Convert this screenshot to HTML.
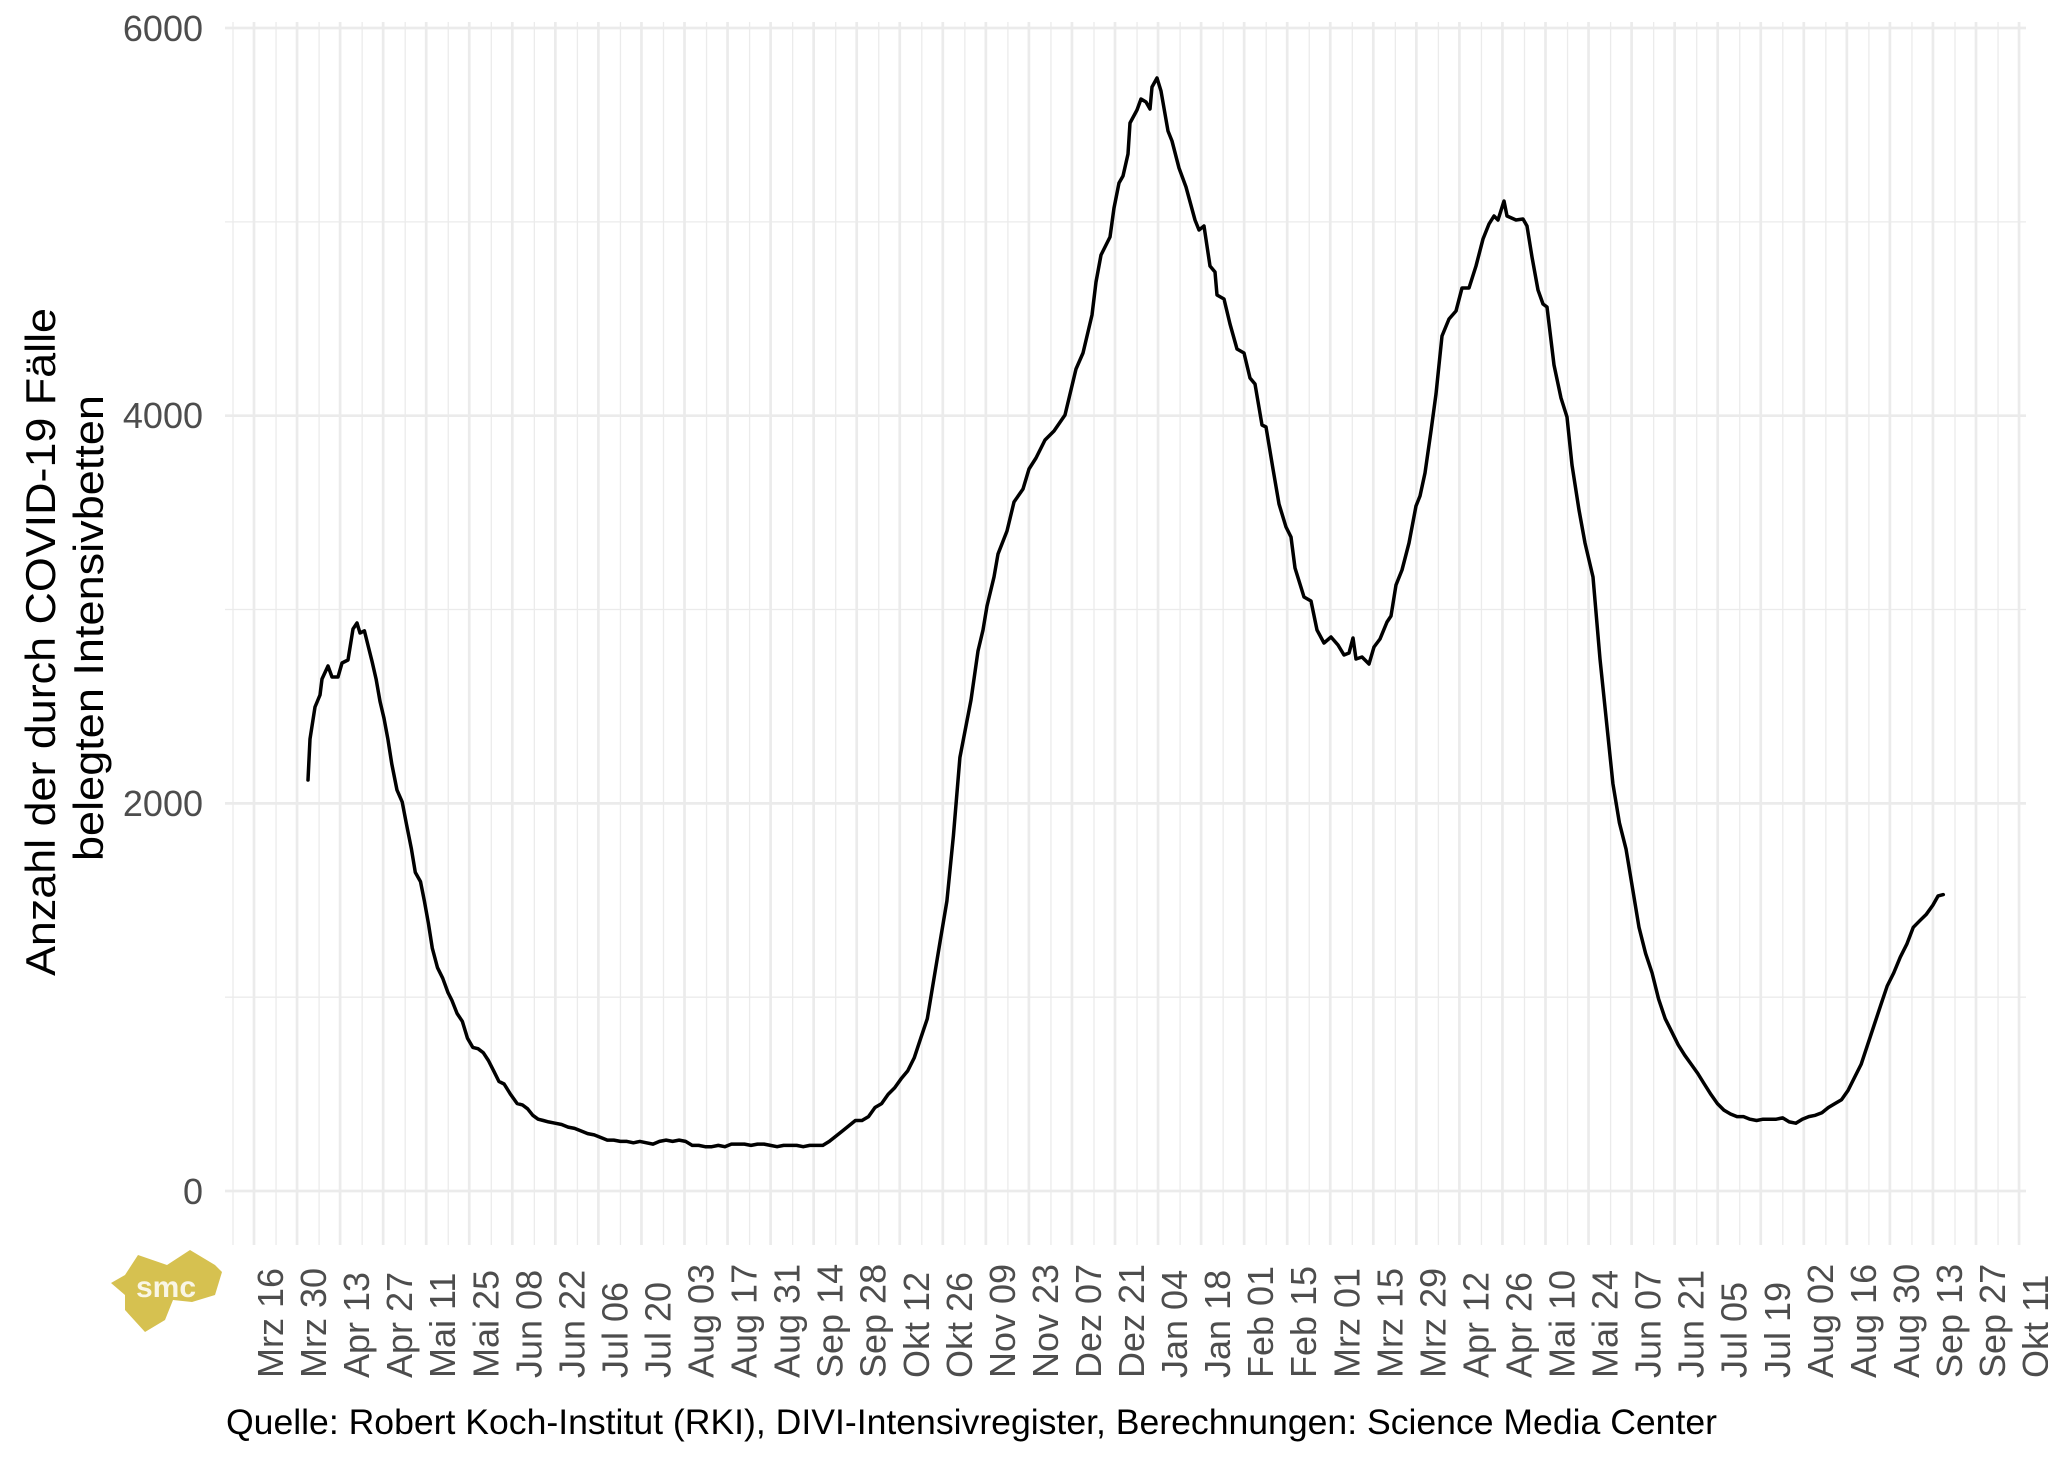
<!DOCTYPE html>
<html><head><meta charset="utf-8"><style>html,body{margin:0;padding:0;background:#fff}svg{display:block}</style></head>
<body>
<svg id="s" width="2048" height="1462" viewBox="0 0 2048 1462" xmlns="http://www.w3.org/2000/svg" font-family="Liberation Sans, Arial, sans-serif">
<rect width="2048" height="1462" fill="#fff"/>
<g id="grid"></g>
<path id="curve" fill="none" stroke="#000" stroke-width="3.5" stroke-linejoin="round" stroke-linecap="round"/>
<g font-size="36" fill="#4d4d4d" text-anchor="end">
<text x="203" y="41">6000</text>
<text x="203" y="428">4000</text>
<text x="203" y="816">2000</text>
<text x="203" y="1204">0</text>
</g>
<g font-size="36" fill="#4d4d4d">
<text transform="translate(283,1378) rotate(-90)">Mrz 16</text>
<text transform="translate(326.05,1378) rotate(-90)">Mrz 30</text>
<text transform="translate(369.1,1378) rotate(-90)">Apr 13</text>
<text transform="translate(412.15,1378) rotate(-90)">Apr 27</text>
<text transform="translate(455.2,1378) rotate(-90)">Mai 11</text>
<text transform="translate(498.25,1378) rotate(-90)">Mai 25</text>
<text transform="translate(541.3,1378) rotate(-90)">Jun 08</text>
<text transform="translate(584.35,1378) rotate(-90)">Jun 22</text>
<text transform="translate(627.4,1378) rotate(-90)">Jul 06</text>
<text transform="translate(670.45,1378) rotate(-90)">Jul 20</text>
<text transform="translate(713.5,1378) rotate(-90)">Aug 03</text>
<text transform="translate(756.55,1378) rotate(-90)">Aug 17</text>
<text transform="translate(799.6,1378) rotate(-90)">Aug 31</text>
<text transform="translate(842.65,1378) rotate(-90)">Sep 14</text>
<text transform="translate(885.7,1378) rotate(-90)">Sep 28</text>
<text transform="translate(928.75,1378) rotate(-90)">Okt 12</text>
<text transform="translate(971.8,1378) rotate(-90)">Okt 26</text>
<text transform="translate(1014.85,1378) rotate(-90)">Nov 09</text>
<text transform="translate(1057.9,1378) rotate(-90)">Nov 23</text>
<text transform="translate(1100.95,1378) rotate(-90)">Dez 07</text>
<text transform="translate(1144,1378) rotate(-90)">Dez 21</text>
<text transform="translate(1187.05,1378) rotate(-90)">Jan 04</text>
<text transform="translate(1230.1,1378) rotate(-90)">Jan 18</text>
<text transform="translate(1273.15,1378) rotate(-90)">Feb 01</text>
<text transform="translate(1316.2,1378) rotate(-90)">Feb 15</text>
<text transform="translate(1359.25,1378) rotate(-90)">Mrz 01</text>
<text transform="translate(1402.3,1378) rotate(-90)">Mrz 15</text>
<text transform="translate(1445.35,1378) rotate(-90)">Mrz 29</text>
<text transform="translate(1488.4,1378) rotate(-90)">Apr 12</text>
<text transform="translate(1531.45,1378) rotate(-90)">Apr 26</text>
<text transform="translate(1574.5,1378) rotate(-90)">Mai 10</text>
<text transform="translate(1617.55,1378) rotate(-90)">Mai 24</text>
<text transform="translate(1660.6,1378) rotate(-90)">Jun 07</text>
<text transform="translate(1703.65,1378) rotate(-90)">Jun 21</text>
<text transform="translate(1746.7,1378) rotate(-90)">Jul 05</text>
<text transform="translate(1789.75,1378) rotate(-90)">Jul 19</text>
<text transform="translate(1832.8,1378) rotate(-90)">Aug 02</text>
<text transform="translate(1875.85,1378) rotate(-90)">Aug 16</text>
<text transform="translate(1918.9,1378) rotate(-90)">Aug 30</text>
<text transform="translate(1961.95,1378) rotate(-90)">Sep 13</text>
<text transform="translate(2005,1378) rotate(-90)">Sep 27</text>
<text transform="translate(2048.05,1378) rotate(-90)">Okt 11</text>
</g>
<g font-size="42" fill="#000">
<text transform="translate(55,976) rotate(-90)" textLength="668" lengthAdjust="spacingAndGlyphs">Anzahl der durch COVID-19 Fälle</text>
<text transform="translate(103,861) rotate(-90)" textLength="466" lengthAdjust="spacingAndGlyphs">belegten Intensivbetten</text>
</g>
<text x="226" y="1434" font-size="35" fill="#000" textLength="1491" lengthAdjust="spacingAndGlyphs">Quelle: Robert Koch-Institut (RKI), DIVI-Intensivregister, Berechnungen: Science Media Center</text>
<polygon points="111,1283 125,1275 138,1255 167,1265 190,1250 215,1265 222,1272 215,1295 192,1302 173,1300 165,1320 145,1332 125,1310 125,1295" fill="#d6c150"/>
<text x="166" y="1297" font-size="30" font-weight="bold" fill="#fff" fill-opacity="0.85" text-anchor="middle">smc</text>
</svg>
<script>
(function(){
var ns="http://www.w3.org/2000/svg",g=document.getElementById('grid');
function ln(x1,y1,x2,y2,w){var l=document.createElementNS(ns,'line');l.setAttribute('x1',x1);l.setAttribute('y1',y1);l.setAttribute('x2',x2);l.setAttribute('y2',y2);l.setAttribute('stroke','#ebebeb');l.setAttribute('stroke-width',w);g.appendChild(l);}
var y0=1191,u=0.19383;
[1000,3000,5000].forEach(function(v){ln(225,y0-v*u,2026,y0-v*u,1.3);});
for(var k=0;k<42;k++){ln(233+43.05*k,22,233+43.05*k,1245,1.3);}
for(var k=0;k<42;k++){ln(254+43.05*k,22,254+43.05*k,1245,2.7);}
[0,2000,4000,6000].forEach(function(v){ln(225,y0-v*u,2026,y0-v*u,2.7);});
var A=[[308,780],[310,739],[315,707],[320,695],[322,679],[328,666],[332,677],[338,677],[342,663],[348,660],[353,629],[357,623],[360,633]];
var D=[[279,483],[282,495],[285,507],[288,520],[291,537],[294,550],[297,566],[300,585],[304,605],[308,614],[311,630],[315,650],[318,668],[322,675],[325,690],[328,707],[331,726],[335,741],[339,749],[343,760],[346,766],[350,776],[354,782],[358,795],[362,802],[366,803],[370,806],[374,812],[378,820],[382,828],[386,830],[391,838],[396,845],[400,846],[404,849],[408,854],[412,857],[416,858],[420,859],[425,860],[430,861],[435,863],[440,864],[445,866],[450,868],[455,869],[460,871],[465,873],[470,873],[475,874],[480,874],[485,875],[490,874],[495,875],[500,876],[505,874],[510,873],[515,874],[520,873],[525,874],[530,877],[535,877],[540,878],[545,878],[550,877],[555,878],[560,876],[565,876],[570,876],[575,877],[580,876],[585,876],[590,877],[595,878],[600,877],[610,877],[615,878],[620,877],[625,877],[630,877],[635,874],[640,870],[645,866],[650,862],[655,858],[660,858],[665,855],[670,848],[675,845],[680,838],[685,833],[690,826],[695,820],[700,810],[705,795],[710,780],[715,750],[720,720],[725,690],[730,640],[735,580]];
var B=[[971,700],[978,651],[983,630],[987,606],[994,577],[998,554],[1007,531],[1014,502],[1023,489],[1029,469],[1036,458],[1045,440],[1054,431],[1065,415],[1076,369],[1083,353],[1092,315],[1096,282],[1101,255],[1110,237],[1114,208],[1119,183],[1123,176],[1128,154],[1130,123],[1137,110],[1141,99],[1146,102],[1150,109],[1152,87],[1157,78],[1161,91],[1168,131],[1172,141],[1179,168],[1186,187],[1195,220],[1199,230],[1204,226],[1210,266],[1215,272],[1217,295],[1224,299],[1230,324],[1237,349],[1244,353],[1250,378],[1255,384],[1262,425],[1266,427],[1273,469],[1279,504],[1286,527],[1291,537],[1295,568],[1304,597],[1311,601],[1317,630],[1324,643],[1331,637],[1338,645],[1344,655],[1349,653],[1353,638],[1356,659],[1362,657],[1369,664],[1374,647],[1380,639],[1387,622],[1391,616],[1396,585],[1402,570],[1409,543],[1416,506],[1420,496],[1425,473],[1431,431],[1436,394],[1442,336],[1449,319],[1456,311],[1462,288],[1469,288],[1476,266],[1483,239],[1489,224],[1494,216],[1498,220],[1504,201],[1507,216],[1516,220],[1523,219],[1527,226],[1532,257],[1538,290],[1543,304],[1547,307],[1554,365],[1561,398],[1567,417],[1572,465],[1579,510],[1585,543],[1593,577],[1600,659]];
var E=[[1235,600],[1240,630],[1245,650],[1250,680],[1255,710],[1260,730],[1265,745],[1270,765],[1275,780],[1280,790],[1285,800],[1290,808],[1295,815],[1300,822],[1305,830],[1310,838],[1315,845],[1320,850],[1325,853],[1330,855],[1335,855],[1340,857],[1345,858],[1350,857],[1355,857],[1360,857],[1365,856],[1370,859],[1375,860],[1380,857],[1385,855],[1390,854],[1395,852],[1400,848],[1405,845],[1410,842],[1415,835],[1420,825],[1425,815],[1430,800],[1435,785],[1440,770],[1445,755],[1450,745],[1455,733],[1460,723],[1465,710],[1470,705],[1475,700],[1480,693],[1484,686],[1488,685]];
var s=1.306,P=[];
A.forEach(function(p){P.push(p);});
D.forEach(function(p){P.push([p[0]*s,p[1]*s]);});
B.forEach(function(p){P.push(p);});
E.forEach(function(p){P.push([p[0]*s,p[1]*s]);});
var d='M'+P.map(function(p){return p[0].toFixed(1)+','+p[1].toFixed(1);}).join('L');
document.getElementById('curve').setAttribute('d',d);
})();
</script>
</body></html>
